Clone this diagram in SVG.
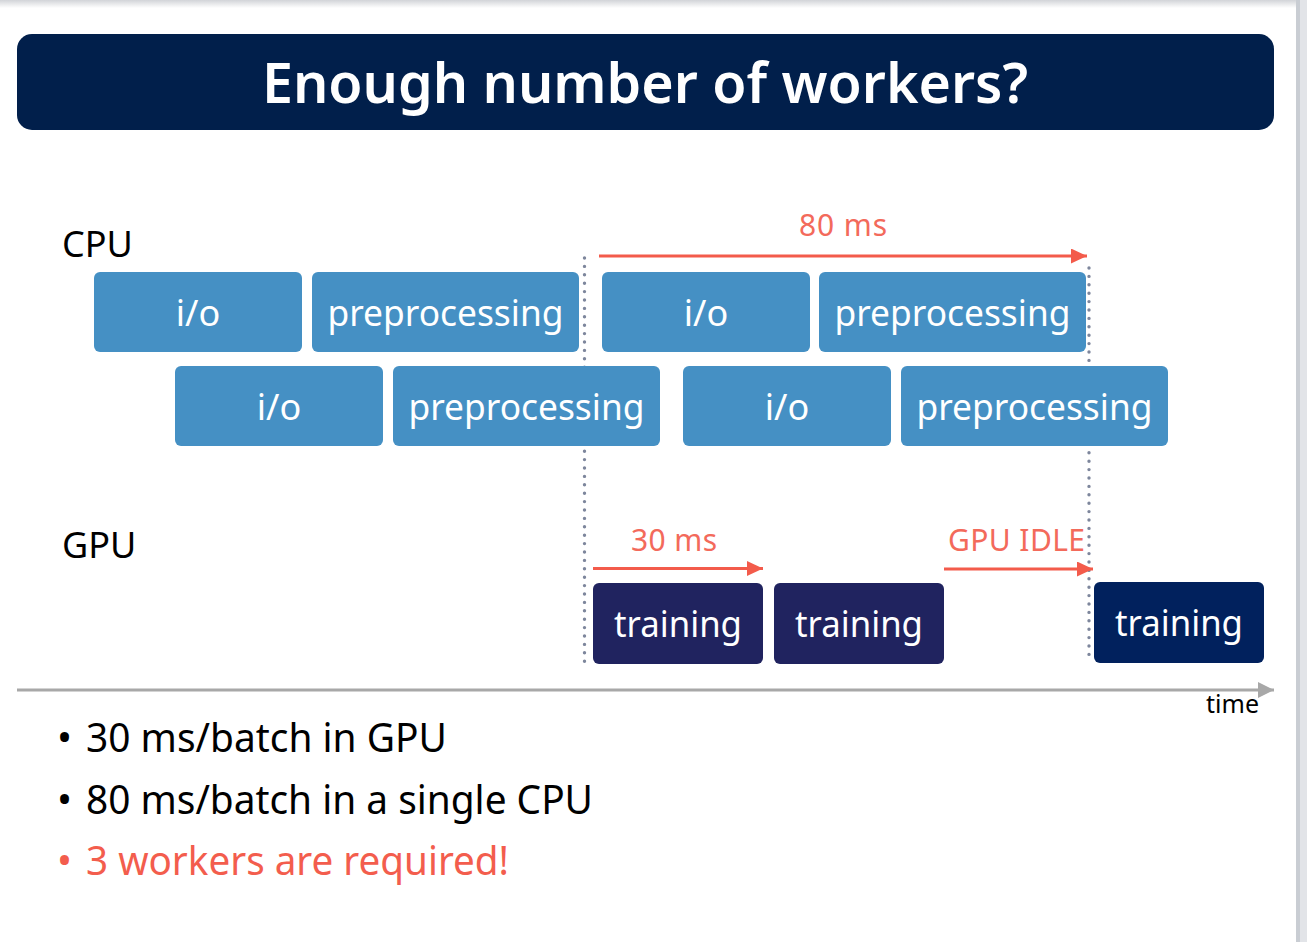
<svg xmlns="http://www.w3.org/2000/svg" width="1307" height="942" viewBox="0 0 1307 942">
  <defs>
    <linearGradient id="topShade" x1="0" y1="0" x2="0" y2="1">
      <stop offset="0" stop-color="#d2d4d8"/>
      <stop offset="1" stop-color="#ffffff"/>
    </linearGradient>
    <marker id="redHead" markerUnits="userSpaceOnUse" markerWidth="17" markerHeight="15" refX="16" refY="7.5" orient="auto">
      <path d="M0,0 L16,7.5 L0,15 z" fill="#f35b4b"/>
    </marker>
    <marker id="greyHead" markerUnits="userSpaceOnUse" markerWidth="17" markerHeight="16" refX="16" refY="8" orient="auto">
      <path d="M0,0 L16,8 L0,16 z" fill="#a8a8a8"/>
    </marker>
    <style>
      .sans { font-family: "Noto Sans", "Open Sans", "DejaVu Sans", sans-serif; }
      .cpu rect { fill: #4590c4; }
      .gpu rect { fill: #20235f; }
      .gpu.last rect { fill: #01215d; }
      .boxlabel { fill: #ffffff; font-size: 36px; text-anchor: middle; }
      .trainlabel { fill: #ffffff; font-size: 37px; text-anchor: middle; }
      .lane { fill: #000000; font-size: 36px; }
      .red { fill: #f35d4d; }
      .redline { stroke: #f35b4b; stroke-width: 3; fill: none; marker-end: url(#redHead); }
      .note { font-size: 30px; fill: #f36a5b; }
      .dots { stroke: #7d869c; stroke-width: 3.4; stroke-linecap: round; stroke-dasharray: 0 8.4; fill: none; }
      .bullet { font-size: 40px; }
    </style>
  </defs>

  <!-- page background and slide sheet -->
  <rect x="0" y="0" width="1307" height="942" fill="#e2e4e8"/>
  <rect x="0" y="0" width="1297" height="942" fill="#ffffff"/>
  <rect x="0" y="0" width="1297" height="8" fill="url(#topShade)"/>
  <rect x="1296" y="0" width="4" height="942" fill="#c9cdd3"/>

  <!-- title banner -->
  <g id="title">
    <rect x="17" y="34" width="1257" height="96" rx="15" fill="#011f4b"/>
    <text class="sans" x="645" y="103" font-size="56" font-weight="600" fill="#ffffff" text-anchor="middle" textLength="766" lengthAdjust="spacingAndGlyphs">Enough number of workers?</text>
  </g>

  <!-- lane labels -->
  <g id="lane-cpu"><text class="sans lane" x="62" y="257">CPU</text></g>
  <g id="lane-gpu"><text class="sans lane" x="62" y="558">GPU</text></g>

  <!-- batch boundary markers -->
  <g id="boundaries">
    <line class="dots" x1="584.5" y1="258" x2="584.5" y2="662"/>
    <line class="dots" x1="1089" y1="268" x2="1089" y2="660"/>
  </g>

  <!-- CPU worker 1 -->
  <g id="cpu1-io1" class="cpu">
    <rect x="94" y="272" width="208" height="80" rx="6"/>
    <text class="sans boxlabel" x="198" y="326">i/o</text>
  </g>
  <g id="cpu1-pre1" class="cpu">
    <rect x="312" y="272" width="267" height="80" rx="6"/>
    <text class="sans boxlabel" x="445.5" y="326" textLength="236" lengthAdjust="spacingAndGlyphs">preprocessing</text>
  </g>
  <g id="cpu1-io2" class="cpu">
    <rect x="602" y="272" width="208" height="80" rx="6"/>
    <text class="sans boxlabel" x="706" y="326">i/o</text>
  </g>
  <g id="cpu1-pre2" class="cpu">
    <rect x="819" y="272" width="267" height="80" rx="6"/>
    <text class="sans boxlabel" x="952.5" y="326" textLength="236" lengthAdjust="spacingAndGlyphs">preprocessing</text>
  </g>

  <!-- CPU worker 2 -->
  <g id="cpu2-io1" class="cpu">
    <rect x="175" y="366" width="208" height="80" rx="6"/>
    <text class="sans boxlabel" x="279" y="420">i/o</text>
  </g>
  <g id="cpu2-pre1" class="cpu">
    <rect x="393" y="366" width="267" height="80" rx="6"/>
    <text class="sans boxlabel" x="526.5" y="420" textLength="236" lengthAdjust="spacingAndGlyphs">preprocessing</text>
  </g>
  <g id="cpu2-io2" class="cpu">
    <rect x="683" y="366" width="208" height="80" rx="6"/>
    <text class="sans boxlabel" x="787" y="420">i/o</text>
  </g>
  <g id="cpu2-pre2" class="cpu">
    <rect x="901" y="366" width="267" height="80" rx="6"/>
    <text class="sans boxlabel" x="1034.5" y="420" textLength="236" lengthAdjust="spacingAndGlyphs">preprocessing</text>
  </g>

  <!-- GPU training steps -->
  <g id="gpu-train1" class="gpu">
    <rect x="593" y="583" width="170" height="81" rx="6"/>
    <text class="sans trainlabel" x="678" y="637" textLength="128" lengthAdjust="spacingAndGlyphs">training</text>
  </g>
  <g id="gpu-train2" class="gpu">
    <rect x="774" y="583" width="170" height="81" rx="6"/>
    <text class="sans trainlabel" x="859" y="637" textLength="128" lengthAdjust="spacingAndGlyphs">training</text>
  </g>
  <g id="gpu-train3" class="gpu last">
    <rect x="1094" y="582" width="170" height="81" rx="6"/>
    <text class="sans trainlabel" x="1179" y="636" textLength="128" lengthAdjust="spacingAndGlyphs">training</text>
  </g>

  <!-- duration arrows and time axis -->
  <g id="connectors">
    <line class="redline" x1="599" y1="256" x2="1087" y2="256"/>
    <text class="sans note" x="843" y="236" text-anchor="middle" textLength="88" lengthAdjust="spacing">80 ms</text>
    <line class="redline" x1="593" y1="568.5" x2="763" y2="568.5"/>
    <text class="sans note" x="674" y="551" text-anchor="middle" textLength="86" lengthAdjust="spacing">30 ms</text>
    <line class="redline" x1="944" y1="569" x2="1093" y2="569"/>
    <text class="sans note" x="948" y="551" textLength="137" lengthAdjust="spacing">GPU IDLE</text>
    <line x1="17" y1="690" x2="1274" y2="690" stroke="#a8a8a8" stroke-width="3" marker-end="url(#greyHead)"/>
    <text class="sans" x="1259" y="713" font-size="25" fill="#000000" text-anchor="end">time</text>
  </g>

  <!-- summary bullets -->
  <g id="summary">
    <text class="sans bullet" x="57" y="752" fill="#000000">•</text>
    <text class="sans bullet" x="86" y="752" fill="#000000" textLength="361" lengthAdjust="spacingAndGlyphs">30 ms/batch in GPU</text>
    <text class="sans bullet" x="57" y="814" fill="#000000">•</text>
    <text class="sans bullet" x="86" y="814" fill="#000000" textLength="507" lengthAdjust="spacingAndGlyphs">80 ms/batch in a single CPU</text>
    <text class="sans bullet red" x="57" y="875">•</text>
    <text class="sans bullet red" x="86" y="875" textLength="423" lengthAdjust="spacingAndGlyphs">3 workers are required!</text>
  </g>
</svg>
